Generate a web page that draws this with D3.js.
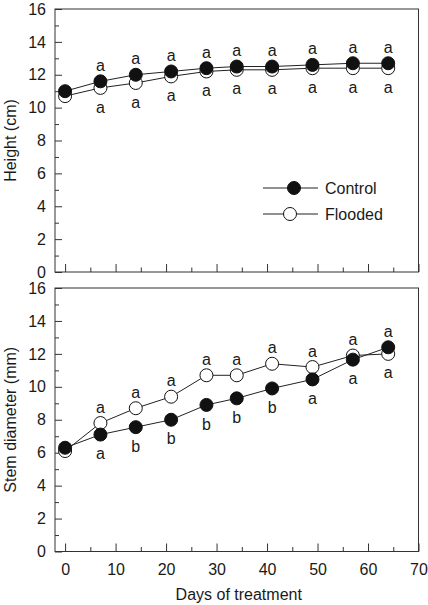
<!DOCTYPE html>
<html>
<head>
<meta charset="utf-8">
<script src="https://cdn.jsdelivr.net/npm/d3@7"></script>
<style>
  html, body { margin: 0; padding: 0; background: #fff; }
  svg { display: block; }
  text { font-family: "Liberation Sans", Arial, Helvetica, sans-serif; fill: #1a1a1a; }
</style>
</head>
<body>
<svg id="chart" width="428" height="605"></svg>
<script>
// ---- Data ----
const days = [0, 7, 14, 21, 28, 34, 41, 49, 57, 64];
const seriesNames = ["Control", "Flooded"];

const heightControl = [11.0, 11.6, 12.0, 12.2, 12.4, 12.5, 12.5, 12.6, 12.7, 12.7];
const heightFlooded = [10.7, 11.2, 11.5, 11.9, 12.2, 12.3, 12.3, 12.4, 12.4, 12.4];
const heightLettersControl = ["", "a", "a", "a", "a", "a", "a", "a", "a", "a"];
const heightLettersFlooded = ["", "a", "a", "a", "a", "a", "a", "a", "a", "a"];

const diamControl = [6.3, 7.1, 7.55, 8.0, 8.9, 9.3, 9.9, 10.45, 11.65, 12.4];
const diamFlooded = [6.1, 7.8, 8.7, 9.4, 10.7, 10.7, 11.4, 11.2, 11.9, 12.0];
const diamLettersControl = ["", "a", "b", "b", "b", "b", "b", "a", "a", "a"];
const diamLettersFlooded = ["", "a", "a", "a", "a", "a", "a", "a", "a", "a"];

const xTicksMajor = [0, 10, 20, 30, 40, 50, 60, 70];
const xTicksMinor = [5, 15, 25, 35, 45, 55, 65];
const yTicksMajor = [0, 2, 4, 6, 8, 10, 12, 14, 16];
const yTicksMinor = [1, 3, 5, 7, 9, 11, 13, 15];

const yTitles = ["Height (cm)", "Stem diameter (mm)"];
const xTitle = "Days of treatment";

// ---- Layout ----
const svg = d3.select("#chart");
const left = 55, right = 418.5;
const x = d3.scaleLinear().domain([-2, 70]).range([left, right]);
const R = 6.5;

const panels = [
  { top: 9, bottom: 272, ctrl: heightControl, fl: heightFlooded,
    lc: heightLettersControl, lf: heightLettersFlooded, title: yTitles[0], xlabels: false, legend: true },
  { top: 288, bottom: 551.5, ctrl: diamControl, fl: diamFlooded,
    lc: diamLettersControl, lf: diamLettersFlooded, title: yTitles[1], xlabels: true, legend: false }
];

const ink = "#1a1a1a";

panels.forEach(p => {
  const y = d3.scaleLinear().domain([0, 16]).range([p.bottom, p.top]);
  const g = svg.append("g");

  // frame
  g.append("rect")
    .attr("x", left).attr("y", p.top)
    .attr("width", right - left).attr("height", p.bottom - p.top)
    .attr("fill", "none").attr("stroke", "#333").attr("stroke-width", 1);

  // y axis major
  const yAx = g.append("g").attr("transform", `translate(${left},0)`)
    .call(d3.axisLeft(y).tickValues(yTicksMajor).tickSizeInner(-7).tickSizeOuter(0).tickPadding(9).tickFormat(d3.format("d")));
  yAx.select(".domain").remove();
  yAx.selectAll("line").attr("stroke", "#333");
  yAx.selectAll("text").attr("font-size", 16).attr("fill", ink)
     .style("font-family", '"Liberation Sans", Arial, sans-serif');
  // y axis minor
  const yAxm = g.append("g").attr("transform", `translate(${left},0)`)
    .call(d3.axisLeft(y).tickValues(yTicksMinor).tickSizeInner(-4).tickSizeOuter(0).tickFormat(""));
  yAxm.select(".domain").remove();
  yAxm.selectAll("line").attr("stroke", "#333");

  // x axis major
  const xAx = g.append("g").attr("transform", `translate(0,${p.bottom})`)
    .call(d3.axisBottom(x).tickValues(xTicksMajor).tickSizeInner(-8).tickSizeOuter(0).tickPadding(12)
      .tickFormat(p.xlabels ? d3.format("d") : ""));
  xAx.select(".domain").remove();
  xAx.selectAll("line").attr("stroke", "#333");
  xAx.selectAll("text").attr("font-size", 16).attr("fill", ink)
     .style("font-family", '"Liberation Sans", Arial, sans-serif');
  const xAxm = g.append("g").attr("transform", `translate(0,${p.bottom})`)
    .call(d3.axisBottom(x).tickValues(xTicksMinor).tickSizeInner(-4.5).tickSizeOuter(0).tickFormat(""));
  xAxm.select(".domain").remove();
  xAxm.selectAll("line").attr("stroke", "#333");

  // y title
  g.append("text")
    .attr("transform", `translate(16,${(p.top + p.bottom) / 2}) rotate(-90)`)
    .attr("text-anchor", "middle")
    .attr("font-size", 16)
    .text(p.title);

  // series
  const rows = days.map((d, i) => ({ d, c: p.ctrl[i], f: p.fl[i], lc: p.lc[i], lf: p.lf[i] }));
  const line = key => d3.line().x(r => x(r.d)).y(r => y(r[key]));

  g.append("path").datum(rows).attr("d", line("f"))
    .attr("fill", "none").attr("stroke", "#222").attr("stroke-width", 1);
  g.append("path").datum(rows).attr("d", line("c"))
    .attr("fill", "none").attr("stroke", "#222").attr("stroke-width", 1);

  g.selectAll(".mf").data(rows).join("circle")
    .attr("cx", r => x(r.d)).attr("cy", r => y(r.f)).attr("r", R)
    .attr("fill", "#fff").attr("stroke", "#111").attr("stroke-width", 1);
  g.selectAll(".mc").data(rows).join("circle")
    .attr("cx", r => x(r.d)).attr("cy", r => y(r.c)).attr("r", R)
    .attr("fill", "#111").attr("stroke", "#111").attr("stroke-width", 1);

  // significance letters
  rows.forEach(r => {
    const hi = Math.max(r.c, r.f), lo = Math.min(r.c, r.f);
    const ctrlUp = r.c >= r.f;
    const upper = ctrlUp ? r.lc : r.lf;
    const lower = ctrlUp ? r.lf : r.lc;
    if (upper) g.append("text").attr("x", x(r.d)).attr("y", y(hi) - 16)
      .attr("dy", "0.35em").attr("text-anchor", "middle").attr("font-size", 16).text(upper);
    if (lower) g.append("text").attr("x", x(r.d)).attr("y", y(lo) + 19)
      .attr("dy", "0.35em").attr("text-anchor", "middle").attr("font-size", 16).text(lower);
  });

  // legend
  if (p.legend) {
    const items = [{ name: seriesNames[0], fill: "#111", cx: 294 }, { name: seriesNames[1], fill: "#fff", cx: 290 }];
    items.forEach((it, i) => {
      const ly = 188 + i * 26;
      g.append("line").attr("x1", 263).attr("x2", 318).attr("y1", ly).attr("y2", ly)
        .attr("stroke", "#222").attr("stroke-width", 1);
      g.append("circle").attr("cx", it.cx).attr("cy", ly).attr("r", R)
        .attr("fill", it.fill).attr("stroke", "#111").attr("stroke-width", 1);
      g.append("text").attr("x", 325).attr("y", ly).attr("dy", "0.35em")
        .attr("font-size", 16).text(it.name);
    });
  }
});

// x title
svg.append("text")
  .attr("x", (left + right) / 2 + 2).attr("y", 600)
  .attr("text-anchor", "middle").attr("font-size", 16)
  .text(xTitle);
</script>
</body>
</html>
